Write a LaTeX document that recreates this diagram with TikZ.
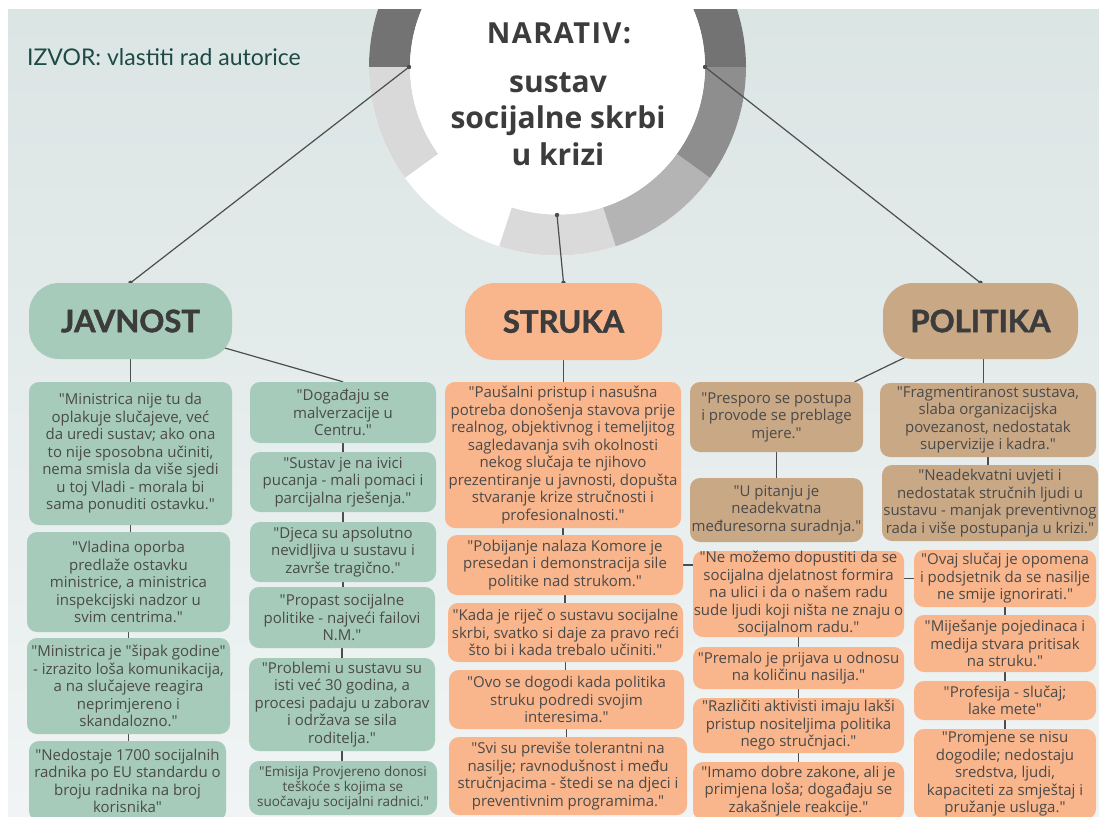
\documentclass[tikz,border=0pt]{standalone}
\usepackage{fontspec}
\setmainfont{Open Sans}
\newfontfamily\bodyfont{Open Sans}
\newfontfamily\headfont{Lato}[BoldFeatures={FakeBold=1.5}]
\newfontfamily\srcfont{Lato}
\newfontfamily\ttlfont{Open Sans}
\usetikzlibrary{calc}
\definecolor{bgtop}{HTML}{DBE5E4}
\definecolor{bgbot}{HTML}{F0F4F4}
\definecolor{grn}{HTML}{A7CBBA}
\definecolor{pch}{HTML}{F9B58B}
\definecolor{tan}{HTML}{C9A886}
\definecolor{txt}{HTML}{4A4A4A}
\definecolor{headtxt}{HTML}{3C3C3C}
\definecolor{linec}{HTML}{4D4D4D}
\definecolor{srcc}{HTML}{1E4A46}
\definecolor{rdark}{HTML}{737373}
\definecolor{rlight}{HTML}{D9D9D9}
\definecolor{rbot}{HTML}{DADADA}
\definecolor{rmid}{HTML}{B4B4B4}
\definecolor{rright}{HTML}{8E8E8E}
\pgfdeclarelayer{back}
\pgfdeclarelayer{lines}
\pgfsetlayers{back,lines,main}
\newcommand\mkbox[7]{%
  \node[#2, minimum width={#5-#3}, minimum height={#6-#4}] (#1) at ({(#3+#5)/2},{(#4+#6)/2}) {#7};}
\newcommand\ringseg[3]{%
  \fill[#3,shift={(557.5,67)}] (#1:188.5) arc[start angle=#1,end angle=#2,radius=188.5]
     -- (#2:147.5) arc[start angle=#2,end angle=#1,radius=147.5] -- cycle;}
\tikzset{
  base/.style={rounded corners=10pt, inner sep=0pt, align=center, text=txt,
    font=\bodyfont\fontsize{15}{17.5}\selectfont},
  gbox/.style={base, fill=grn},
  pbox/.style={base, fill=pch},
  tbox/.style={base, fill=tan},
  head/.style={rounded corners=30pt, inner sep=0pt, text=headtxt,
    font=\headfont\fontsize{31}{31}\selectfont\bfseries},
  conn/.style={draw=linec, line width=1.2pt},
  dot/.style={fill=linec},
  ttl/.style={text=headtxt, inner sep=0pt, anchor=base}
}
\begin{document}
\begin{tikzpicture}[x=1pt,y=-1pt]
\useasboundingbox (0,0) rectangle (1099,816);
\begin{pgfonlayer}{back}
\fill[white] (0,0) rectangle (1099,816);
\shade[top color=bgtop, bottom color=bgbot] (8,10) rectangle (1099,816);
\begin{scope}
\clip (8,10) rectangle (1099,816);
\fill[white] (557.5,67) circle[radius=188.5];
\ringseg{180}{360}{rdark}
\ringseg{144}{180}{rlight}
\ringseg{72}{108}{rbot}
\ringseg{36}{72}{rmid}
\ringseg{0}{36}{rright}
\fill[white] (557.5,67) circle[radius=147.5];
\end{scope}
\end{pgfonlayer}

% title
\node[ttl, font=\ttlfont\fontsize{29}{29}\selectfont\bfseries\addfontfeature{LetterSpace=5}] (nar) at (559,44) {NARATIV:};
\node[ttl, font=\ttlfont\fontsize{30}{30}\selectfont\bfseries] (t1) at (558,92) {sustav};
\node[ttl, font=\ttlfont\fontsize{30}{30}\selectfont\bfseries] (t2) at (558,128) {socijalne skrbi};
\node[ttl, font=\ttlfont\fontsize{30}{30}\selectfont\bfseries] (t3) at (558,165) {u krizi};
\node[text=srcc, inner sep=0pt, anchor=base west, font=\srcfont\fontsize{23}{23}\selectfont] (src) at (27,65) {IZVOR: vlastiti rad autorice};

\coordinate (cL) at (409,67);
\coordinate (cR) at (705,67);
\coordinate (cB) at (557,215);

% headings
\mkbox{jav}{head, fill=grn}{29}{283}{232}{359}{JAVNOST}
\mkbox{str}{head, fill=pch}{465}{283}{662}{360}{STRUKA}
\mkbox{pol}{head, fill=tan}{883}{283}{1078}{359}{POLITIKA}

% JAVNOST left column
\mkbox{j1}{gbox}{29}{382}{232}{525}{"Ministrica nije tu da\\oplakuje slučajeve, već\\da uredi sustav; ako ona\\to nije sposobna učiniti,\\nema smisla da više sjedi\\u toj Vladi - morala bi\\sama ponuditi ostavku."}
\mkbox{j2}{gbox}{27}{532}{230}{632}{"Vladina oporba\\predlaže ostavku\\ministrice, a ministrica\\inspekcijski nadzor u\\svim centrima."}
\mkbox{j3}{gbox}{27}{638}{230}{734}{"Ministrica je "šipak godine"\\ - izrazito loša komunikacija,\\a na slučajeve reagira\\neprimjereno i\\skandalozno."}
\mkbox{j4}{gbox}{29}{741}{226}{821}{"Nedostaje 1700 socijalnih\\radnika po EU standardu o\\broju radnika na broj\\korisnika"}
% JAVNOST right column
\mkbox{j5}{gbox}{250}{382}{436}{443}{"Događaju se\\malverzacije u\\Centru."}
\mkbox{j6}{gbox}{250}{452}{436}{512}{"Sustav je na ivici\\pucanja - mali pomaci i\\parcijalna rješenja."}
\mkbox{j7}{gbox}{250}{522}{436}{582}{"Djeca su apsolutno\\nevidljiva u sustavu i\\završe tragično."}
\mkbox{j8}{gbox}{249}{587}{435}{648}{"Propast socijalne\\politike - najveći failovi\\N.M."}
\mkbox{j9}{gbox}{249}{658}{435}{751}{"Problemi u sustavu su\\isti već 30 godina, a\\procesi padaju u zaborav\\i održava se sila\\roditelja."}
\mkbox{j10}{gbox, font=\bodyfont\fontsize{13.5}{15.3}\selectfont}{249}{761}{437}{815}{"Emisija Provjereno donosi\\teškoće s kojima se\\suočavaju socijalni radnici."}

% STRUKA column
\mkbox{s1}{pbox}{445}{382}{681}{528}{"Paušalni pristup i nasušna\\potreba donošenja stavova prije\\realnog, objektivnog i temeljitog\\sagledavanja svih okolnosti\\nekog slučaja te njihovo\\prezentiranje u javnosti, dopušta\\stvaranje krize stručnosti i\\profesionalnosti."}
\mkbox{s2}{pbox}{447}{535}{683}{595}{"Pobijanje nalaza Komore je\\presedan i demonstracija sile\\politike nad strukom."}
\mkbox{s3}{pbox}{448}{603}{683}{662}{"Kada je riječ o sustavu socijalne\\skrbi, svatko si daje za pravo reći\\što bi i kada trebalo učiniti."}
\mkbox{s4}{pbox}{449}{670}{684}{729}{"Ovo se dogodi kada politika\\struku podredi svojim\\interesima."}
\mkbox{s5}{pbox}{449}{737}{687}{815}{"Svi su previše tolerantni na\\nasilje; ravnodušnost i među\\stručnjacima - štedi se na djeci i\\preventivnim programima."}

% POLITIKA
\mkbox{p1}{tbox}{690}{382}{863}{452}{"Presporo se postupa\\i provode se preblage\\mjere."}
\mkbox{p2}{tbox}{690}{478}{863}{542}{"U pitanju je\\neadekvatna\\međuresorna suradnja."}
\mkbox{p3}{tbox}{880}{383}{1096}{457}{"Fragmentiranost sustava,\\slaba organizacijska\\povezanost, nedostatak\\supervizije i kadra."}
\mkbox{p4}{tbox}{882}{465}{1098}{541}{"Neadekvatni uvjeti i\\nedostatak stručnih ljudi u\\sustavu - manjak preventivnog\\rada i više postupanja u krizi."}

% lower right peach
\mkbox{r1}{pbox}{693}{551}{904}{637}{"Ne možemo dopustiti da se\\socijalna djelatnost formira\\na ulici i da o našem radu\\sude ljudi koji ništa ne znaju o\\socijalnom radu."}
\mkbox{r2}{pbox}{693}{647}{904}{689}{"Premalo je prijava u odnosu\\na količinu nasilja."}
\mkbox{r3}{pbox}{693}{698}{904}{753}{"Različiti aktivisti imaju lakši\\pristup nositeljima politika\\nego stručnjaci."}
\mkbox{r4}{pbox}{693}{762}{904}{820}{"Imamo dobre zakone, ali je\\primjena loša; događaju se\\zakašnjele reakcije."}
\mkbox{r5}{pbox}{914}{550}{1096}{607}{"Ovaj slučaj je opomena\\i podsjetnik da se nasilje\\ne smije ignorirati."}
\mkbox{r6}{pbox}{914}{615}{1096}{672}{"Miješanje pojedinaca i\\medija stvara pritisak\\na struku."}
\mkbox{r7}{pbox}{914}{681}{1096}{720}{"Profesija - slučaj;\\lake mete"}
\mkbox{r8}{pbox}{914}{729}{1096}{819}{"Promjene se nisu\\dogodile; nedostaju\\sredstva, ljudi,\\kapaciteti za smještaj i\\pružanje usluga."}

\coordinate (p1t) at ([xshift=78pt]p1.north);

\begin{pgfonlayer}{lines}
\draw[conn] (cL) -- (jav.north);
\draw[conn] (cB) -- (str.north);
\draw[conn] (cR) -- (pol.north);
\foreach \p in {cL,cB,cR,jav.north,str.north,pol.north} \fill[dot] (\p) circle[radius=2.2];
\draw[conn] (jav.south) -- (jav.south |- j1.north);
\draw[conn] (jav.center) -- (j5.north);
\draw[conn] (j1.south) -- (j1.south |- j2.north);
\draw[conn] (j2.south) -- (j2.south |- j3.north);
\draw[conn] (j3.south) -- (j3.south |- j4.north);
\draw[conn] (j5.south) -- (j5.south |- j6.north);
\draw[conn] (j6.south) -- (j6.south |- j7.north);
\draw[conn] (j7.south) -- (j7.south |- j8.north);
\draw[conn] (j8.south) -- (j8.south |- j9.north);
\draw[conn] (j9.south) -- (j9.south |- j10.north);
\draw[conn] (str.south) -- (str.south |- s1.north);
\draw[conn] (s1.south) -- (s1.south |- s2.north);
\draw[conn] (s2.south) -- (s2.south |- s3.north);
\draw[conn] (s3.south) -- (s3.south |- s4.north);
\draw[conn] (s4.south) -- (s4.south |- s5.north);
\draw[conn] (s2.east) -- (s2.east -| r1.west);
\draw[conn] (r1.east |- r5.west) -- (r5.west);
\draw[conn] (r1.south) -- (r1.south |- r2.north);
\draw[conn] (r2.south) -- (r2.south |- r3.north);
\draw[conn] (r3.south) -- (r3.south |- r4.north);
\draw[conn] (r5.south) -- (r5.south |- r6.north);
\draw[conn] (r6.south) -- (r6.south |- r7.north);
\draw[conn] (r7.south) -- (r7.south |- r8.north);
\draw[conn] (pol.center) -- (p1t);
\draw[conn] (p1.south) -- (p1.south |- p2.north);
\draw[conn] ([xshift=3pt]pol.south) -- ([xshift=3pt]pol.south |- p3.north);
\draw[conn] (p3.south) -- (p3.south |- p4.north);
\end{pgfonlayer}
\end{tikzpicture}
\end{document}
